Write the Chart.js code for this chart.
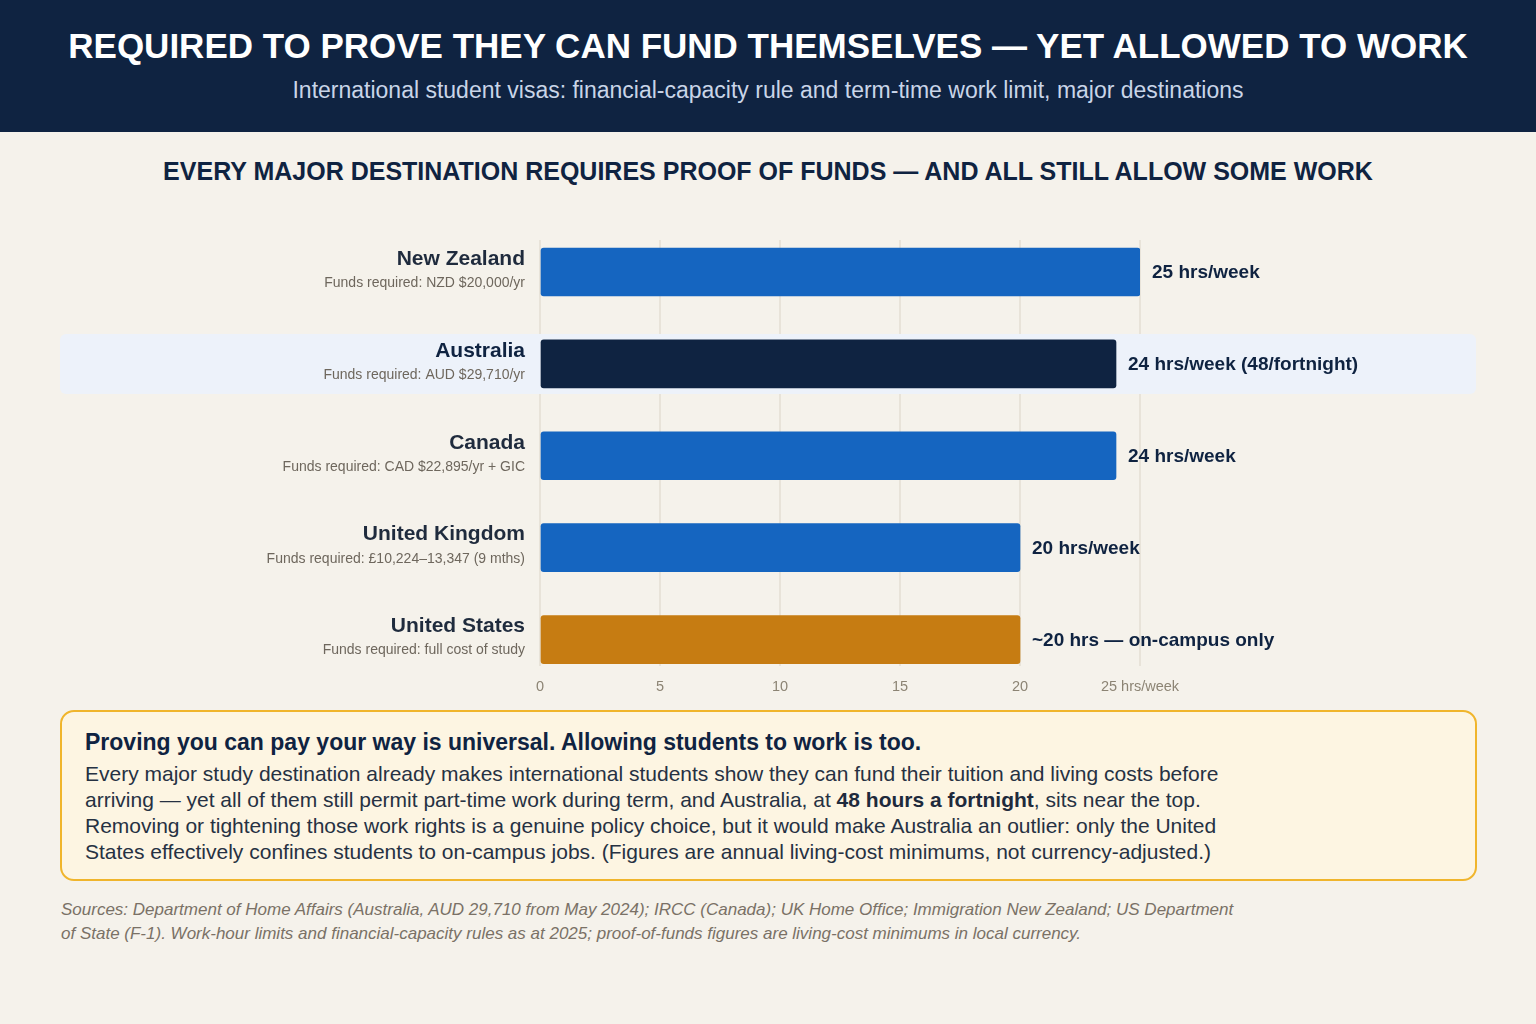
<!DOCTYPE html>
<html>
<head>
<meta charset="utf-8">
<script src="https://cdn.jsdelivr.net/npm/chart.js@4"></script>
<style>
  html, body { margin:0; padding:0; }
  body { width:1536px; height:1024px; background:#f5f2eb; font-family:"Liberation Sans", Arial, Helvetica, sans-serif; position:relative; overflow:hidden; }
  .header { position:absolute; left:0; top:0; width:1536px; height:132px; background:#0f2341; }
  .title { position:absolute; left:0; width:1536px; top:24px; text-align:center; color:#ffffff; font-weight:bold; font-size:35px; line-height:44px; }
  .subtitle { position:absolute; left:0; width:1536px; top:75px; text-align:center; color:#c9d5e8; font-size:23px; line-height:30px; }
  .heading { position:absolute; left:0; width:1536px; top:156px; text-align:center; color:#0f2341; font-weight:bold; font-size:25px; line-height:30px; }
  .chartwrap { position:absolute; left:0; top:200px; width:1536px; height:510px; }
  .callout { position:absolute; left:60px; top:710px; width:1417px; height:171px; box-sizing:border-box; border:2px solid #f0b52c; border-radius:14px; background:#fdf5e2; }
  .callout h3 { position:absolute; left:23px; top:15px; margin:0; font-size:23px; line-height:30px; color:#0f2341; font-weight:bold; white-space:nowrap; }
  .callout p { position:absolute; left:23px; top:49px; margin:0; font-size:21px; line-height:26px; color:#263142; white-space:nowrap; }
  .callout p b { color:#1e2a3c; }
  .sources { position:absolute; left:61px; top:898px; font-size:17px; line-height:24px; color:#7a7166; font-style:italic; white-space:nowrap; }
</style>
</head>
<body>
<div class="header">
  <div class="title">REQUIRED TO PROVE THEY CAN FUND THEMSELVES — YET ALLOWED TO WORK</div>
  <div class="subtitle">International student visas: financial-capacity rule and term-time work limit, major destinations</div>
</div>
<div class="heading">EVERY MAJOR DESTINATION REQUIRES PROOF OF FUNDS — AND ALL STILL ALLOW SOME WORK</div>
<div class="chartwrap"><canvas id="c"></canvas></div>
<div class="callout">
  <h3>Proving you can pay your way is universal. Allowing students to work is too.</h3>
  <p>Every major study destination already makes international students show they can fund their tuition and living costs before<br>arriving — yet all of them still permit part-time work during term, and Australia, at <b>48 hours a fortnight</b>, sits near the top.<br>Removing or tightening those work rights is a genuine policy choice, but it would make Australia an outlier: only the United<br>States effectively confines students to on-campus jobs. (Figures are annual living-cost minimums, not currency-adjusted.)</p>
</div>
<div class="sources">Sources: Department of Home Affairs (Australia, AUD 29,710 from May 2024); IRCC (Canada); UK Home Office; Immigration New Zealand; US Department<br>of State (F-1). Work-hour limits and financial-capacity rules as at 2025; proof-of-funds figures are living-cost minimums in local currency.</div>

<script>
// ---- data ----
const countries = ["New Zealand", "Australia", "Canada", "United Kingdom", "United States"];
const fundsRequired = [
  "Funds required: NZD $20,000/yr",
  "Funds required: AUD $29,710/yr",
  "Funds required: CAD $22,895/yr + GIC",
  "Funds required: £10,224–13,347 (9 mths)",
  "Funds required: full cost of study"
];
const hoursPerWeek = [25, 24, 24, 20, 20];
const valueLabels = ["25 hrs/week", "24 hrs/week (48/fortnight)", "24 hrs/week", "20 hrs/week", "~20 hrs — on-campus only"];
const xTickValues = [0, 5, 10, 15, 20, 25];
const xTickLabels = ["0", "5", "10", "15", "20", "25 hrs/week"];
const highlightIndex = 1;

// ---- styles ----
const barColors = ["#1565c0", "#0f2341", "#1565c0", "#1565c0", "#c67c12"];
const FONT = '"Liberation Sans", Arial, Helvetica, sans-serif';
const ROW_MIN = -0.348, ROW_MAX = 4.283;

const rowDecor = {
  id: 'rowDecor',
  beforeDatasetsDraw(chart) {
    const ctx = chart.ctx;
    const y = chart.scales.y;
    const cy = y.getPixelForValue(highlightIndex);
    ctx.save();
    ctx.fillStyle = '#edf2fa';
    ctx.beginPath();
    ctx.roundRect(60, cy - 30, 1416, 60, 6);
    ctx.fill();
    ctx.restore();
  },
  afterDatasetsDraw(chart) {
    const ctx = chart.ctx;
    const y = chart.scales.y;
    const x = chart.scales.x;
    ctx.save();
    countries.forEach((name, i) => {
      const cy = y.getPixelForValue(i);
      ctx.textAlign = 'right';
      ctx.textBaseline = 'middle';
      ctx.fillStyle = i === highlightIndex ? '#0f2341' : '#1f2b3d';
      ctx.font = 'bold 21px ' + FONT;
      ctx.fillText(name, 525, cy - 13);
      ctx.fillStyle = '#6e675d';
      ctx.font = '14px ' + FONT;
      ctx.fillText(fundsRequired[i], 525, cy + 11);
      // value labels
      ctx.textAlign = 'left';
      ctx.fillStyle = '#0f2341';
      ctx.font = 'bold 19px ' + FONT;
      ctx.fillText(valueLabels[i], x.getPixelForValue(hoursPerWeek[i]) + 12, cy + 1);
    });
    ctx.restore();
  }
};

new Chart(document.getElementById('c'), {
  type: 'bar',
  data: {
    datasets: [{
      data: hoursPerWeek.map((h, i) => ({ x: h, y: i })),
      backgroundColor: barColors,
      borderRadius: 3,
      borderSkipped: false,
      barThickness: 48
    }]
  },
  options: {
    indexAxis: 'y',
    responsive: true,
    maintainAspectRatio: false,
    animation: false,
    devicePixelRatio: 1,
    layout: { padding: { left: 540, right: 396, top: 40, bottom: 1 } },
    plugins: { legend: { display: false }, tooltip: { enabled: false } },
    scales: {
      x: {
        type: 'linear',
        min: 0, max: 25,
        afterBuildTicks(scale) { scale.ticks = xTickValues.map(v => ({ value: v })); },
        ticks: {
          callback: (v) => xTickLabels[xTickValues.indexOf(v)],
          color: '#8c8474',
          font: { family: FONT, size: 14.5 },
          padding: 13,
          maxRotation: 0,
          autoSkip: false
        },
        grid: { color: '#e8e3d9', lineWidth: 2, drawTicks: false },
        border: { display: false }
      },
      y: {
        type: 'linear',
        reverse: true,
        offset: false,
        bounds: 'data',
        min: ROW_MIN, max: ROW_MAX,
        afterBuildTicks(scale) { scale.min = ROW_MIN; scale.max = ROW_MAX; },
        grid: { offset: false },
        display: false
      }
    }
  },
  plugins: [rowDecor]
});
</script>
</body>
</html>
